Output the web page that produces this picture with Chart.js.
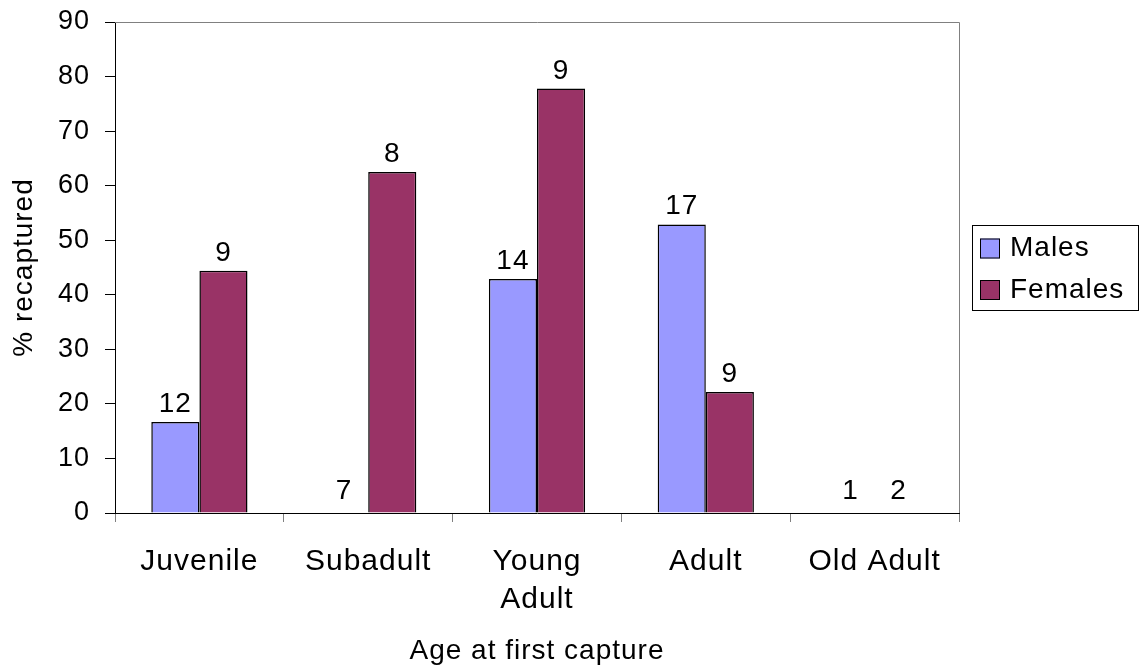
<!DOCTYPE html>
<html><head><meta charset="utf-8">
<script src="https://cdn.jsdelivr.net/npm/chart.js@4.4.1/dist/chart.umd.min.js"></script>
<style>html,body{margin:0;padding:0;background:#fff}canvas{display:block}</style>
</head><body>
<canvas id="c" width="1141" height="668"></canvas>
<script>
const categories = ['Juvenile', 'Subadult', ['Young', 'Adult'], 'Adult', 'Old Adult'];
const seriesNames = ['Males', 'Females'];
const malesPct = [16.7, 0, 42.9, 52.9, 0];
const femalesPct = [44.4, 62.5, 77.8, 22.2, 0];
const malesN = [12, 7, 14, 17, 1];
const femalesN = [9, 8, 9, 9, 2];
const yMin = 0, yMax = 90, yStep = 10;
const axisTitleX = 'Age at first capture';
const axisTitleY = '% recaptured';
const colors = ['#9999FF', '#993366'];
const counts = [malesN, femalesN];

const FONT = '"Liberation Sans", Arial, sans-serif';
Chart.defaults.font.family = FONT;
Chart.defaults.color = '#000';

const spacingPlugin = {
  id: 'spacing',
  beforeLayout(c) { c.ctx.letterSpacing = '1px'; },
  beforeDraw(c) { c.ctx.letterSpacing = '1px'; }
};

const framePlugin = {
  id: 'frame',
  afterDraw(c) {
    const a = c.chartArea, ctx = c.ctx;
    ctx.save();
    ctx.strokeStyle = '#808080';
    ctx.lineWidth = 1;
    ctx.beginPath();
    ctx.moveTo(a.left, a.top + 0.5);
    ctx.lineTo(a.right + 0.5, a.top + 0.5);
    ctx.lineTo(a.right + 0.5, a.bottom);
    ctx.stroke();
    ctx.restore();
  }
};

const labelPlugin = {
  id: 'valueLabels',
  afterDatasetsDraw(c) {
    const ctx = c.ctx;
    ctx.save();
    ctx.letterSpacing = '1px';
    ctx.font = '28px ' + FONT;
    ctx.fillStyle = '#000';
    ctx.textAlign = 'center';
    ctx.textBaseline = 'alphabetic';
    c.data.datasets.forEach((ds, di) => {
      const meta = c.getDatasetMeta(di);
      meta.data.forEach((el, i) => {
        const off = ds.data[i] === 0 ? 14 : 10;
        ctx.fillText(String(counts[di][i]), el.x, el.y - off);
      });
    });
    ctx.restore();
  }
};

const legendPlugin = {
  id: 'boxLegend',
  afterDraw(c) {
    const ctx = c.ctx, a = c.chartArea;
    const left = a.right + 13, right = c.width - 3;
    const mid = (a.top + a.bottom) / 2;
    const top = mid - 42.5, bottom = mid + 42.5;
    ctx.save();
    ctx.letterSpacing = '1px';
    ctx.strokeStyle = '#000';
    ctx.lineWidth = 1;
    ctx.strokeRect(Math.round(left) + 0.5, Math.round(top) + 0.5, Math.round(right - left), Math.round(bottom - top));
    ctx.font = '28px ' + FONT;
    ctx.textBaseline = 'middle';
    ctx.textAlign = 'left';
    c.data.datasets.forEach((ds, i) => {
      const cy = top + 23.5 + i * 41.5;
      ctx.fillStyle = ds.backgroundColor;
      ctx.fillRect(left + 8, cy - 10, 20, 20);
      ctx.strokeStyle = '#000';
      ctx.strokeRect(left + 8.5, cy - 9.5, 19, 19);
      ctx.fillStyle = '#000';
      ctx.fillText(ds.label, left + 38, cy);
    });
    ctx.restore();
  }
};

new Chart(document.getElementById('c'), {
  type: 'bar',
  data: {
    labels: categories,
    datasets: seriesNames.map((name, i) => ({
      label: name,
      data: i === 0 ? malesPct : femalesPct,
      backgroundColor: colors[i],
      borderColor: '#000',
      borderWidth: 1.5,
      categoryPercentage: 0.57,
      barPercentage: 1.0
    }))
  },
  options: {
    responsive: false,
    animation: false,
    devicePixelRatio: 1,
    layout: { padding: { left: 0, top: 22, right: 182, bottom: 0 } },
    plugins: { legend: { display: false }, tooltip: { enabled: false } },
    scales: {
      x: {
        offset: true,
        grid: { offset: true, drawOnChartArea: false, drawTicks: true, tickLength: 9, color: '#808080' },
        border: { color: '#000', width: 1 },
        ticks: { font: { size: 30, lineHeight: 1.27 }, color: '#000', padding: 21, maxRotation: 0, autoSkip: false },
        title: { display: true, text: axisTitleX, font: { size: 28 }, color: '#000', padding: { top: 0, bottom: 0 } },
        afterFit(s) { s.height = 155; s.paddingLeft = 0; s.paddingRight = 0; }
      },
      y: {
        min: yMin, max: yMax,
        ticks: { stepSize: yStep, font: { size: 27 }, color: '#000', padding: 15 },
        grid: { drawOnChartArea: false, drawTicks: true, tickLength: 10, color: '#000' },
        border: { color: '#000', width: 1 },
        title: { display: true, text: axisTitleY, font: { size: 28 }, color: '#000', padding: { top: 7, bottom: 0 } },
        afterFit(s) { s.width = 115; s.paddingTop = 0; s.paddingBottom = 0; }
      }
    }
  },
  plugins: [spacingPlugin, labelPlugin, framePlugin, legendPlugin]
});
</script>
</body></html>
